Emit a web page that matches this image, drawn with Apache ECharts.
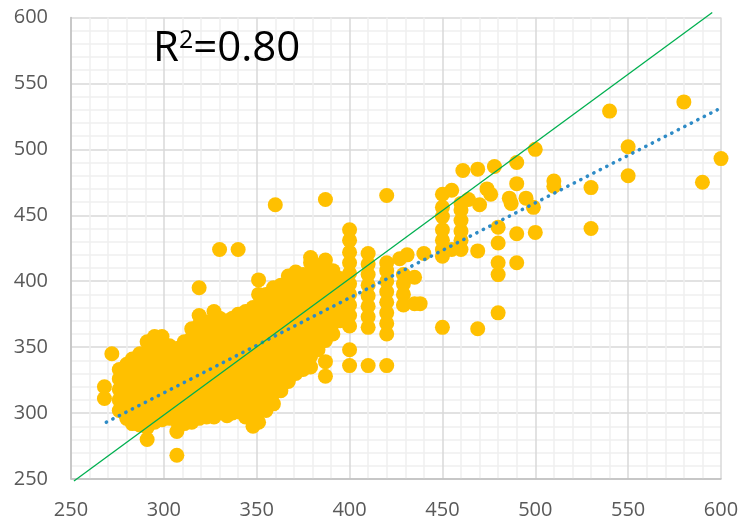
<!DOCTYPE html>
<html>
<head>
<meta charset="utf-8">
<script src="https://cdn.jsdelivr.net/npm/echarts@6/dist/echarts.min.js"></script>
<style>
  html, body { margin: 0; padding: 0; background: #ffffff; }
  #chart { width: 743px; height: 522px; }
</style>
</head>
<body>
<div id="chart"></div>
<script>
// Axis ticks (both axes share the same range)
const axisTicks = [250, 300, 350, 400, 450, 500, 550, 600];

// Observations, grouped by x value: [x, [y values...]]
const clusterColumns = [
  [268, [311, 320]],
  [272, [345]],
  [276, [302, 310, 318, 326, 333]],
  [280, [296, 304, 312, 320, 329, 337]],
  [283, [292, 300, 309, 317, 325, 334, 341]],
  [287, [291, 299, 307, 315, 323, 331, 339, 345]],
  [291, [280, 289, 297, 305, 313, 321, 329, 337, 346, 354]],
  [295, [293, 301, 309, 317, 325, 333, 341, 349, 358]],
  [299, [295, 303, 311, 319, 327, 335, 343, 350, 358]],
  [303, [296, 304, 312, 320, 328, 336, 344, 351]],
  [307, [268, 286, 294, 302, 310, 318, 326, 334, 342, 349]],
  [311, [292, 300, 308, 316, 324, 332, 340, 348, 354]],
  [315, [293, 301, 309, 317, 325, 333, 341, 349, 357, 364]],
  [319, [296, 304, 312, 320, 328, 336, 344, 352, 360, 367, 374, 395]],
  [323, [297, 305, 313, 321, 329, 337, 345, 353, 361, 369]],
  [327, [297, 305, 313, 321, 329, 337, 345, 353, 361, 369, 377]],
  [330, [301, 309, 317, 325, 333, 341, 349, 357, 365, 372, 424]],
  [334, [298, 306, 314, 322, 330, 338, 346, 354, 362, 370]],
  [337, [300, 308, 316, 324, 332, 340, 348, 356, 364, 372]],
  [340, [301, 309, 317, 325, 333, 341, 349, 357, 365, 375, 424]],
  [344, [297, 305, 313, 321, 329, 337, 345, 353, 361, 369, 377]],
  [348, [290, 298, 306, 314, 322, 330, 338, 346, 354, 362, 370, 380]],
  [351, [293, 301, 309, 317, 325, 333, 341, 349, 357, 365, 373, 381, 390, 401]],
  [355, [302, 310, 318, 326, 334, 342, 350, 358, 366, 374, 382, 390]],
  [359, [307, 315, 323, 331, 339, 347, 355, 363, 371, 379, 387, 395]],
  [360, [458]],
  [363, [317, 325, 333, 341, 349, 357, 365, 373, 381, 389, 397]],
  [367, [324, 332, 340, 348, 356, 364, 372, 380, 388, 396, 404]],
  [371, [330, 338, 346, 354, 362, 370, 378, 386, 394, 402, 407]],
  [375, [333, 341, 349, 357, 365, 373, 381, 389, 397, 405]],
  [379, [335, 343, 351, 359, 367, 375, 383, 391, 399, 407, 414, 418]],
  [383, [348, 356, 364, 372, 380, 388, 396, 404, 412]],
  [387, [328, 339, 355, 363, 371, 379, 387, 395, 403, 411, 416, 462]],
  [391, [360, 368, 376, 384, 392, 400, 408]],
  [395, [370, 378, 386, 394, 402]]
];

const upperColumns = [
  [400, [336, 348, 366, 374, 382, 390, 398, 406, 414, 422, 431, 439]],
  [410, [336, 365, 373, 381, 389, 397, 405, 413, 421]],
  [420, [336, 360, 368, 376, 384, 392, 400, 408, 414, 465]],
  [427, [417]],
  [429, [382, 390, 398, 405]],
  [431, [420]],
  [435, [383, 403]],
  [438, [383]],
  [440, [421]],
  [450, [365, 419, 424, 431, 439, 449, 456, 466]],
  [455, [424, 469]],
  [460, [424, 431, 438, 446, 454, 459]],
  [461, [484]],
  [464, [462]],
  [469, [364, 423, 485]],
  [470, [458]],
  [474, [470]],
  [476, [466]],
  [478, [487]],
  [480, [376, 405, 414, 429, 441]],
  [486, [463]],
  [487, [459]],
  [490, [414, 436, 474, 490]],
  [495, [463]],
  [499, [456]],
  [500, [437, 500]],
  [510, [472, 476]],
  [530, [440, 471]],
  [540, [529]],
  [550, [480, 502]],
  [580, [536]],
  [590, [475]],
  [600, [493]]
];

// Linear trend (dotted) and reference line endpoints
const trendX = [269, 598];
const trendY = [293, 530];
const refX = [251.6, 595.3];
const refY = [248.5, 603.8];

const rSquaredText = '0.80';

function expand(columns) {
  const out = [];
  columns.forEach(function (c) {
    c[1].forEach(function (y) { out.push([c[0], y]); });
  });
  return out;
}
const points = expand(clusterColumns).concat(expand(upperColumns));

const labelFont = "'Open Sans', 'Liberation Sans', sans-serif";

function valueAxis(isX) {
  return {
    type: 'value',
    min: axisTicks[0],
    max: axisTicks[axisTicks.length - 1],
    interval: axisTicks[1] - axisTicks[0],
    axisLine: { show: true, onZero: false, lineStyle: { color: '#bfbfbf', width: 1.5 } },
    axisTick: { show: false },
    axisLabel: {
      color: '#595959',
      fontFamily: labelFont,
      fontSize: 20,
      margin: isX ? 21 : 23
    },
    splitLine: { show: true, lineStyle: { color: '#d9d9d9', width: 1.5 } },
    minorTick: { show: false, splitNumber: 5 },
    minorSplitLine: { show: true, lineStyle: { color: '#efefef', width: 1.5 } }
  };
}

const chart = echarts.init(document.getElementById('chart'), null, { renderer: 'canvas' });
chart.setOption({
  animation: false,
  backgroundColor: '#ffffff',
  grid: { left: 71, right: 22, top: 17.5, bottom: 43 },
  xAxis: valueAxis(true),
  yAxis: valueAxis(false),
  series: [
    {
      type: 'scatter',
      data: points,
      symbol: 'circle',
      symbolSize: 15,
      itemStyle: { color: '#FFC000', opacity: 1 },
      z: 2
    },
    {
      type: 'line',
      data: trendX.map(function (x, i) { return [x, trendY[i]]; }),
      symbol: 'none',
      lineStyle: { color: '#2E8BC6', width: 3.5, type: [0.3, 7], cap: 'round' },
      z: 3
    },
    {
      type: 'line',
      data: refX.map(function (x, i) { return [x, refY[i]]; }),
      symbol: 'none',
      clip: false,
      lineStyle: { color: '#00B050', width: 1.3 },
      z: 4
    }
  ],
  graphic: [
    {
      type: 'text',
      left: 153,
      top: 28,
      z: 10,
      style: {
        text: '{b|R}{s|2}{b|=' + rSquaredText + '}',
        fontFamily: labelFont,
        rich: {
          b: { fontSize: 42, fontFamily: labelFont, fill: '#000000', verticalAlign: 'bottom' },
          s: { fontSize: 25, fontFamily: labelFont, fill: '#000000', verticalAlign: 'top' }
        }
      }
    }
  ]
});
</script>
</body>
</html>
